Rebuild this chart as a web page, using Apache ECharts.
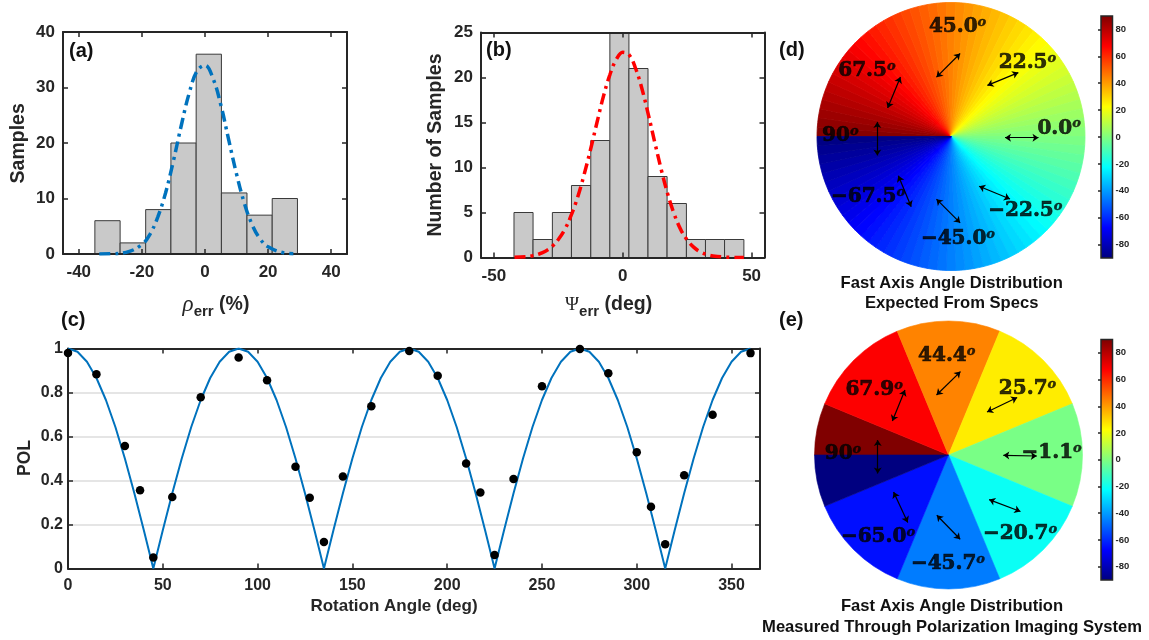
<!DOCTYPE html>
<html><head><meta charset="utf-8">
<script src="https://cdn.jsdelivr.net/npm/echarts@6/dist/echarts.min.js"></script>
<style>html,body{margin:0;padding:0;background:#fff}#c{width:1149px;height:640px}</style>
</head><body><div id="c"></div>
<script>
// ---------- (a) rho_err histogram ----------
const rhoBinEdges = [-34.9, -26.9, -18.8, -10.8, -2.8, 5.2, 13.3, 21.3, 29.3];
const rhoCounts = [6, 2, 8, 20, 36, 11, 7, 10];
const rhoFitX = [-33.5, -30, -25, -20, -17.5, -15, -12.5, -10, -7.5, -5, -2.5, 0, 2.5, 5, 7.5, 10, 12.5, 15, 17.5, 20, 25, 28];
const rhoFitY = [0.01, 0.04, 0.3, 1.7, 3.5, 6.6, 11.0, 16.8, 23.2, 29.0, 33.0, 34.0, 31.7, 26.9, 20.6, 14.4, 9.1, 5.2, 2.7, 1.3, 0.2, 0.05];
const rhoXTicks = [-40, -20, 0, 20, 40];
const rhoYTicks = [0, 10, 20, 30, 40];

// ---------- (b) psi_err histogram ----------
const psiBinEdges = [-42.2, -34.8, -27.3, -19.9, -12.4, -5.0, 2.4, 9.8, 17.2, 24.7, 32.1, 39.5, 47.0];
const psiCounts = [5, 2, 5, 8, 13, 25, 21, 9, 6, 2, 2, 2];
const psiFitX = [-42, -37.5, -35, -32.5, -30, -27.5, -25, -22.5, -20, -17.5, -15, -12.5, -10, -7.5, -5, -2.5, 0, 2.5, 5, 7.5, 10, 12.5, 15, 17.5, 20, 22.5, 25, 27.5, 30, 32.5, 35, 40, 47];
const psiFitY = [0.03, 0.1, 0.2, 0.39, 0.7, 1.2, 2.0, 3.1, 4.7, 6.7, 9.2, 12.0, 15.0, 17.9, 20.3, 22.0, 22.8, 22.5, 21.0, 18.7, 15.8, 12.7, 9.7, 7.0, 4.8, 3.1, 1.95, 1.15, 0.64, 0.34, 0.17, 0.04, 0.0];
const psiXTicks = [-50, 0, 50];
const psiYTicks = [0, 5, 10, 15, 20, 25];

// ---------- (c) POL vs rotation angle ----------
const rotAngles = [0, 15, 30, 38, 45, 55, 70, 90, 105, 120, 127.5, 135, 145, 160, 180, 195, 210, 217.5, 225, 235, 250, 270, 285, 300, 307.5, 315, 325, 340, 360];
const polValues = [0.980, 0.883, 0.557, 0.356, 0.050, 0.325, 0.778, 0.959, 0.856, 0.463, 0.322, 0.120, 0.418, 0.738, 0.989, 0.876, 0.477, 0.345, 0.061, 0.407, 0.828, 0.998, 0.887, 0.528, 0.281, 0.110, 0.424, 0.699, 0.979];
const fitAngles = [0,5,10,15,20,25,30,35,40,45,50,55,60,65,70,75,80,85,90,95,100,105,110,115,120,125,130,135,140,145,150,155,160,165,170,175,180,185,190,195,200,205,210,215,220,225,230,235,240,245,250,255,260,265,270,275,280,285,290,295,300,305,310,315,320,325,330,335,340,345,350,355,360];
const fitPol = [1,0.985,0.940,0.866,0.766,0.643,0.500,0.342,0.174,0,0.174,0.342,0.500,0.643,0.766,0.866,0.940,0.985,1,0.985,0.940,0.866,0.766,0.643,0.500,0.342,0.174,0,0.174,0.342,0.500,0.643,0.766,0.866,0.940,0.985,1,0.985,0.940,0.866,0.766,0.643,0.500,0.342,0.174,0,0.174,0.342,0.500,0.643,0.766,0.866,0.940,0.985,1,0.985,0.940,0.866,0.766,0.643,0.500,0.342,0.174,0,0.174,0.342,0.500,0.643,0.766,0.866,0.940,0.985,1];
const rotXTicks = [0, 50, 100, 150, 200, 250, 300, 350];
const polYTicks = [0, 0.2, 0.4, 0.6, 0.8, 1];

// ---------- (d) expected fast axis angles ----------
const specWedgeAngles = [89,87,85,83,81,79,77,75,73,71,69,67,65,63,61,59,57,55,53,51,49,47,45,43,41,39,37,35,33,31,29,27,25,23,21,19,17,15,13,11,9,7,5,3,1,-1,-3,-5,-7,-9,-11,-13,-15,-17,-19,-21,-23,-25,-27,-29,-31,-33,-35,-37,-39,-41,-43,-45,-47,-49,-51,-53,-55,-57,-59,-61,-63,-65,-67,-69,-71,-73,-75,-77,-79,-81,-83,-85,-87,-89];
const specLabels = ['45.0', '22.5', '67.5', '90', '0.0', '\u221267.5', '\u221222.5', '\u221245.0'];
const specArrowDir = [45, 22.5, 67.5, 90, 0, -67.5, -22.5, -45];

// ---------- (e) measured fast axis angles ----------
const measSpan = [22.5, 45, 45, 45, 45, 45, 45, 45, 22.5];
const measAngle = [90, 67.9, 44.4, 25.7, -1.1, -20.7, -45.7, -65.0, -90];
const measLabels = ['44.4', '25.7', '67.9', '90', '\u22121.1', '\u221220.7', '\u221245.7', '\u221265.0'];
const measArrowDir = [44.4, 25.7, 67.9, 90, -1.1, -20.7, -45.7, -65.0];

const cbRange = [-90, 90];
const cbTicks = [-80, -60, -40, -20, 0, 20, 40, 60, 80];

// ---------- layout (positions in units of pie radius) ----------
const specLabelPos = [[0.049,0.815],[0.571,0.551],[-0.627,0.489],[-0.826,0.004],[0.807,0.061],[-0.619,-0.449],[0.555,-0.556],[0.052,-0.767]];
const specArrowPos = [[-0.020,0.531],[0.387,0.429],[-0.425,0.328],[-0.550,-0.016],[0.528,-0.009],[-0.345,-0.409],[0.325,-0.419],[-0.020,-0.556]];
const measLabelPos = [[-0.013,0.741],[0.59,0.493],[-0.555,0.485],[-0.787,0.007],[0.77,0.013],[0.534,-0.59],[-0.004,-0.813],[-0.526,-0.61]];
const measArrowPos = [[0.0,0.535],[0.40,0.375],[-0.372,0.369],[-0.528,-0.013],[0.534,-0.005],[0.42,-0.377],[0.0,-0.539],[-0.357,-0.39]];

const AX = '#262626';
const SANS = '"Liberation Sans", Arial, Helvetica, sans-serif';
const SERIF = '"DejaVu Serif", serif';

function jet(t) {
  const c = v => Math.max(0, Math.min(1, v));
  const r = c(1.5 - Math.abs(4 * t - 3)), g = c(1.5 - Math.abs(4 * t - 2)), b = c(1.5 - Math.abs(4 * t - 1));
  return 'rgb(' + Math.round(r * 255) + ',' + Math.round(g * 255) + ',' + Math.round(b * 255) + ')';
}
const jetStops = [
  {offset: 0, color: '#00007F'}, {offset: 0.125, color: '#0000FF'}, {offset: 0.375, color: '#00FFFF'},
  {offset: 0.625, color: '#FFFF00'}, {offset: 0.875, color: '#FF0000'}, {offset: 1, color: '#7F0000'}
];

function xPair(gi, min, max, ticks, fs, margin) {
  const tick = {show: true, inside: true, length: 5, customValues: ticks, lineStyle: {color: AX, width: 1.5}};
  const line = {show: true, onZero: false, lineStyle: {color: AX, width: 2}};
  return [
    {type: 'value', gridIndex: gi, min, max, position: 'bottom', z: 3, axisLine: line, axisTick: tick,
     axisLabel: {show: true, customValues: ticks, color: AX, fontFamily: SANS, fontWeight: 'bold', fontSize: fs, margin},
     splitLine: {show: false}},
    {type: 'value', gridIndex: gi, min, max, position: 'top', z: 3, axisLine: line, axisTick: tick,
     axisLabel: {show: false}, splitLine: {show: false}}
  ];
}
function yPair(gi, min, max, interval, ticks, fs, margin, grid) {
  const tick = {show: true, inside: true, length: 5, customValues: ticks, lineStyle: {color: AX, width: 1.5}};
  const line = {show: true, onZero: false, lineStyle: {color: AX, width: 2}};
  return [
    {type: 'value', gridIndex: gi, min, max, interval, position: 'left', z: 3, axisLine: line, axisTick: tick,
     axisLabel: {show: true, customValues: ticks, color: AX, fontFamily: SANS, fontWeight: 'bold', fontSize: fs, margin},
     splitLine: {show: !!grid, lineStyle: {color: '#dcdcdc', width: 1.5}}},
    {type: 'value', gridIndex: gi, min, max, interval, position: 'right', z: 3, axisLine: line, axisTick: tick,
     axisLabel: {show: false}, splitLine: {show: false}}
  ];
}
function hidden(gi, min, max) { return {type: 'value', gridIndex: gi, min, max, show: false}; }
function cbAxis(gi) {
  return {type: 'value', gridIndex: gi, min: cbRange[0], max: cbRange[1], position: 'right', z: 5,
    axisLine: {show: false},
    axisTick: {show: true, inside: true, length: 3, customValues: cbTicks, lineStyle: {color: AX, width: 1.5}},
    axisLabel: {show: true, customValues: cbTicks, color: AX, fontFamily: SANS, fontWeight: 'bold', fontSize: 9.5, margin: 3},
    splitLine: {show: false}};
}

function histRender(params, api) {
  const a = api.coord([api.value(0), 0]);
  const b = api.coord([api.value(1), api.value(2)]);
  return {type: 'rect', shape: {x: a[0], y: b[1], width: b[0] - a[0], height: a[1] - b[1]},
    style: {fill: '#c9c9c9', stroke: '#3a3a3a', lineWidth: 1}};
}
function cbRender(params, api) {
  const a = api.coord([api.value(0), api.value(1)]);
  const b = api.coord([api.value(2), api.value(3)]);
  const shape = {x: a[0], y: b[1], width: b[0] - a[0], height: a[1] - b[1]};
  return {type: 'group', children: [
    {type: 'rect', shape, style: {fill: new echarts.graphic.LinearGradient(0, 1, 0, 0, jetStops)}},
    {type: 'rect', shape, style: {fill: 'none', stroke: AX, lineWidth: 1.5}}
  ]};
}
function arrows(pos, dir) {
  const h = 0.125;
  return pos.map((p, i) => {
    const a = dir[i] * Math.PI / 180;
    return {coords: [[p[0] - h * Math.cos(a), p[1] - h * Math.sin(a)], [p[0] + h * Math.cos(a), p[1] + h * Math.sin(a)]]};
  });
}
const degRich = {
  n: {fontFamily: SERIF, fontWeight: 'bold', fontSize: 20, color: '#000', lineHeight: 22, textBorderColor: '#000', textBorderWidth: 0.7},
  s: {fontFamily: SERIF, fontWeight: 'bold', fontStyle: 'italic', fontSize: 13, color: '#000', lineHeight: 13, verticalAlign: 'top', textBorderColor: '#000', textBorderWidth: 0.4}
};
function labelSeries(gi, names, pos) {
  return {type: 'scatter', xAxisIndex: gi, yAxisIndex: gi, z: 10, silent: true, symbolSize: 1,
    itemStyle: {color: 'rgba(0,0,0,0)'},
    label: {show: true, position: 'inside', formatter: p => '{n|' + p.name + '}{s|o}', rich: degRich},
    data: names.map((n, i) => ({name: n, value: pos[i]}))};
}
function arrowSeries(gi, pos, dir) {
  return {type: 'lines', coordinateSystem: 'cartesian2d', xAxisIndex: gi, yAxisIndex: gi, z: 9, silent: true,
    symbol: ['arrow', 'arrow'], symbolSize: 6,
    lineStyle: {color: '#000', width: 1.2, opacity: 1}, data: arrows(pos, dir)};
}

const xAxes = [].concat(
  xPair(0, -45, 45, rhoXTicks, 17, 10),
  xPair(1, -55, 55, psiXTicks, 17, 10),
  xPair(2, 0, 365, rotXTicks, 16, 9),
  [hidden(3, -1, 1), hidden(4, -1, 1), hidden(5, 0, 1), hidden(6, 0, 1)]
);
const yAxes = [].concat(
  yPair(0, 0, 40, 10, rhoYTicks, 17, 8, false),
  yPair(1, 0, 25, 5, psiYTicks, 17, 8, false),
  yPair(2, 0, 1, 0.2, polYTicks, 16, 5, true),
  [hidden(3, -1, 1), hidden(4, -1, 1), cbAxis(5), cbAxis(6)]
);

function t(x, y, text, font, extra) {
  return Object.assign({type: 'text', x, y, silent: true,
    style: {text, font, fill: AX, align: 'center', verticalAlign: 'middle'}}, extra || {});
}
const B = (s) => 'bold ' + s + 'px ' + SANS;
function plain(x, y, text, size, align) {
  return {type: 'text', x, y, silent: true, style: {text, font: B(size), fill: '#111', align: align || 'center', verticalAlign: 'middle'}};
}

const option = {
  animation: false,
  backgroundColor: '#fff',
  grid: [
    {left: 63, top: 32, width: 284, height: 222},
    {left: 481, top: 32.5, width: 283.5, height: 225},
    {left: 68, top: 348.5, width: 692, height: 220},
    {left: 817, top: 2.5, width: 268, height: 268},
    {left: 814.5, top: 321, width: 268, height: 268},
    {left: 1101, top: 16, width: 11.5, height: 242},
    {left: 1101, top: 339.5, width: 11.5, height: 240.5}
  ],
  xAxis: xAxes,
  yAxis: yAxes,
  series: [
    {type: 'custom', xAxisIndex: 0, yAxisIndex: 0, z: 2, silent: true, renderItem: histRender,
     encode: {x: [0, 1], y: 2}, data: rhoCounts.map((c, i) => [rhoBinEdges[i], rhoBinEdges[i + 1], c])},
    {type: 'line', xAxisIndex: 0, yAxisIndex: 0, z: 4, silent: true, smooth: 0.4, showSymbol: false,
     lineStyle: {color: '#0072BD', width: 3.5, type: [11, 5, 3, 5]}, data: rhoFitX.map((x, i) => [x, rhoFitY[i]])},
    {type: 'custom', xAxisIndex: 2, yAxisIndex: 2, z: 2, silent: true, renderItem: histRender,
     encode: {x: [0, 1], y: 2}, data: psiCounts.map((c, i) => [psiBinEdges[i], psiBinEdges[i + 1], c])},
    {type: 'line', xAxisIndex: 2, yAxisIndex: 2, z: 4, silent: true, smooth: 0.4, showSymbol: false,
     lineStyle: {color: '#FF0000', width: 3.5, type: [11, 5, 3, 5]}, data: psiFitX.map((x, i) => [x, psiFitY[i]])},
    {type: 'line', xAxisIndex: 4, yAxisIndex: 4, z: 4, silent: true, showSymbol: false,
     lineStyle: {color: '#0072BD', width: 2}, data: fitAngles.map((x, i) => [x, fitPol[i]])},
    {type: 'scatter', xAxisIndex: 4, yAxisIndex: 4, z: 5, silent: true, symbolSize: 8.5,
     itemStyle: {color: '#000', opacity: 1}, data: rotAngles.map((x, i) => [x, polValues[i]])},
    {type: 'pie', center: [951, 136.5], radius: 134, startAngle: 180, clockwise: true, silent: true,
     label: {show: false}, labelLine: {show: false}, emphasis: {disabled: true},
     data: specWedgeAngles.map(v => {
       const col = jet((v - cbRange[0]) / (cbRange[1] - cbRange[0]));
       return {value: 1, name: String(v), itemStyle: {color: col, borderColor: col, borderWidth: 0.8}};
     })},
    {type: 'pie', center: [948.5, 455], radius: 134, startAngle: 180, clockwise: true, silent: true,
     label: {show: false}, labelLine: {show: false}, emphasis: {disabled: true},
     data: measSpan.map((s, i) => {
       const col = jet((measAngle[i] - cbRange[0]) / (cbRange[1] - cbRange[0]));
       return {value: s, name: String(measAngle[i]), itemStyle: {color: col, borderColor: col, borderWidth: 0.6}};
     })},
    arrowSeries(6, specArrowPos, specArrowDir),
    labelSeries(6, specLabels, specLabelPos),
    arrowSeries(7, measArrowPos, measArrowDir),
    labelSeries(7, measLabels, measLabelPos),
    {type: 'custom', xAxisIndex: 8, yAxisIndex: 8, z: 2, silent: true, renderItem: cbRender,
     data: [[0, cbRange[0], 1, cbRange[1]]]},
    {type: 'custom', xAxisIndex: 9, yAxisIndex: 9, z: 2, silent: true, renderItem: cbRender,
     data: [[0, cbRange[0], 1, cbRange[1]]]}
  ],
  graphic: [
    plain(69, 51.7, '(a)', 20, 'left'),
    plain(486, 50, '(b)', 20, 'left'),
    plain(61, 320.7, '(c)', 20, 'left'),
    plain(779, 50, '(d)', 20, 'left'),
    plain(779, 320, '(e)', 20, 'left'),
    t(18.3, 143.3, 'Samples', B(19.5), {rotation: Math.PI / 2}),
    t(436, 145, 'Number of Samples', B(19.5), {rotation: Math.PI / 2}),
    t(25, 458, 'POL', B(17.5), {rotation: Math.PI / 2}),
    t(394, 606, 'Rotation Angle (deg)', B(17)),
    {type: 'text', x: 216, y: 305, silent: true, style: {
      text: '{r|\u03c1}{e|err}{p| (%)}', align: 'center', verticalAlign: 'middle', fill: AX,
      rich: {
        r: {fontFamily: '"Liberation Serif", serif', fontStyle: 'italic', fontSize: 23, fill: AX, lineHeight: 28, verticalAlign: 'middle'},
        e: {fontFamily: SANS, fontWeight: 'bold', fontSize: 15, fill: AX, lineHeight: 28, verticalAlign: 'bottom'},
        p: {fontFamily: SANS, fontWeight: 'bold', fontSize: 19.5, fill: AX, lineHeight: 28, verticalAlign: 'middle'}
      }}},
    {type: 'text', x: 608.6, y: 305, silent: true, style: {
      text: '{r|\u03a8}{e|err}{p| (deg)}', align: 'center', verticalAlign: 'middle', fill: AX,
      rich: {
        r: {fontFamily: '"Liberation Serif", serif', fontSize: 19, fill: AX, lineHeight: 28, verticalAlign: 'middle'},
        e: {fontFamily: SANS, fontWeight: 'bold', fontSize: 15, fill: AX, lineHeight: 28, verticalAlign: 'bottom'},
        p: {fontFamily: SANS, fontWeight: 'bold', fontSize: 19.5, fill: AX, lineHeight: 28, verticalAlign: 'middle'}
      }}},
    plain(951.7, 283.3, 'Fast Axis Angle Distribution', 16.6),
    plain(951.7, 303.3, 'Expected From Specs', 16.6),
    plain(952, 606.7, 'Fast Axis Angle Distribution', 16.6),
    plain(952, 627.5, 'Measured Through Polarization Imaging System', 16.6)
  ]
};

const chart = echarts.init(document.getElementById('c'));
chart.setOption(option);
</script>
</body></html>
